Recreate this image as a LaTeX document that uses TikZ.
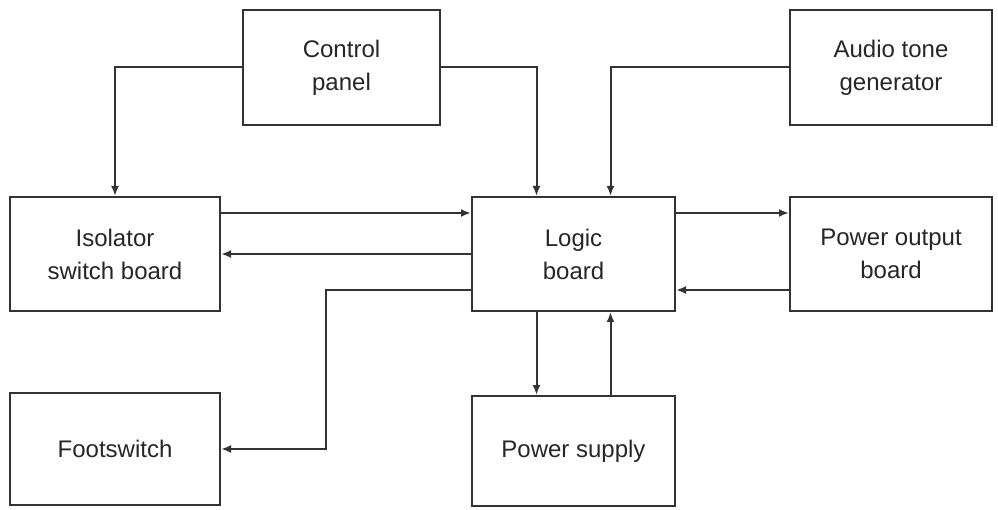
\documentclass[tikz,border=0pt]{standalone}
\usepackage{fontspec}
\setmainfont{Liberation Sans}
\usetikzlibrary{arrows.meta,calc}
\begin{document}
\begin{tikzpicture}[x=1pt,y=-1pt,
  box/.style={draw=black!80, line width=2pt, rectangle, align=center, inner sep=0pt,
    font=\fontsize{24}{33}\selectfont, text=black!85},
  arr/.style={draw=black!80, line width=2pt, -{Latex[length=10pt,width=8pt]}}]
\useasboundingbox (0,0) rectangle (998,510);
\node[box, minimum width=197pt, minimum height=115pt] (cp) at (341.5,67.5) {Control\\panel};
\node[box, minimum width=202pt, minimum height=115pt] (atg) at (891,67.5) {Audio tone\\generator};
\node[box, minimum width=210pt, minimum height=114pt] (isb) at (115,254) {Isolator\\switch board};
\node[box, minimum width=203pt, minimum height=114pt] (lb) at (573.5,254) {Logic\\board};
\node[box, minimum width=202pt, minimum height=114pt] (pob) at (891,254) {Power output\\board};
\node[box, minimum width=210pt, minimum height=112pt] (fs) at (115,449) {Footswitch};
\node[box, minimum width=203pt, minimum height=110pt] (ps) at (573.5,451) {Power supply};
% control panel connections
\draw[arr] (cp.west) -| (isb.north);
\draw[arr] (cp.east) -| ([xshift=-37pt]lb.north);
\draw[arr] (atg.west) -| ([xshift=37pt]lb.north);
% isolator <-> logic
\coordinate (i1) at ($(isb.east)+(0,-41)$);
\draw[arr] (i1) -- (i1 -| lb.west);
\draw[arr] (lb.west |- isb.east) -- (isb.east);
% logic <-> power output
\coordinate (l1) at ($(lb.east)+(0,-41)$);
\draw[arr] (l1) -- (l1 -| pob.west);
\coordinate (p1) at ($(pob.west)+(0,36)$);
\draw[arr] (p1) -- (p1 -| lb.east);
% logic -> footswitch
\coordinate (l2) at ($(lb.west)+(0,36)$);
\coordinate (f1) at ($(fs.east)+(105,0)$);
\draw[arr] (l2) -| (f1) -- (fs.east);
% logic <-> power supply
\draw[arr] ([xshift=-37pt]lb.south) -- ([xshift=-37pt]ps.north);
\draw[arr] ([xshift=37pt]ps.north) -- ([xshift=37pt]lb.south);
\end{tikzpicture}
\end{document}
